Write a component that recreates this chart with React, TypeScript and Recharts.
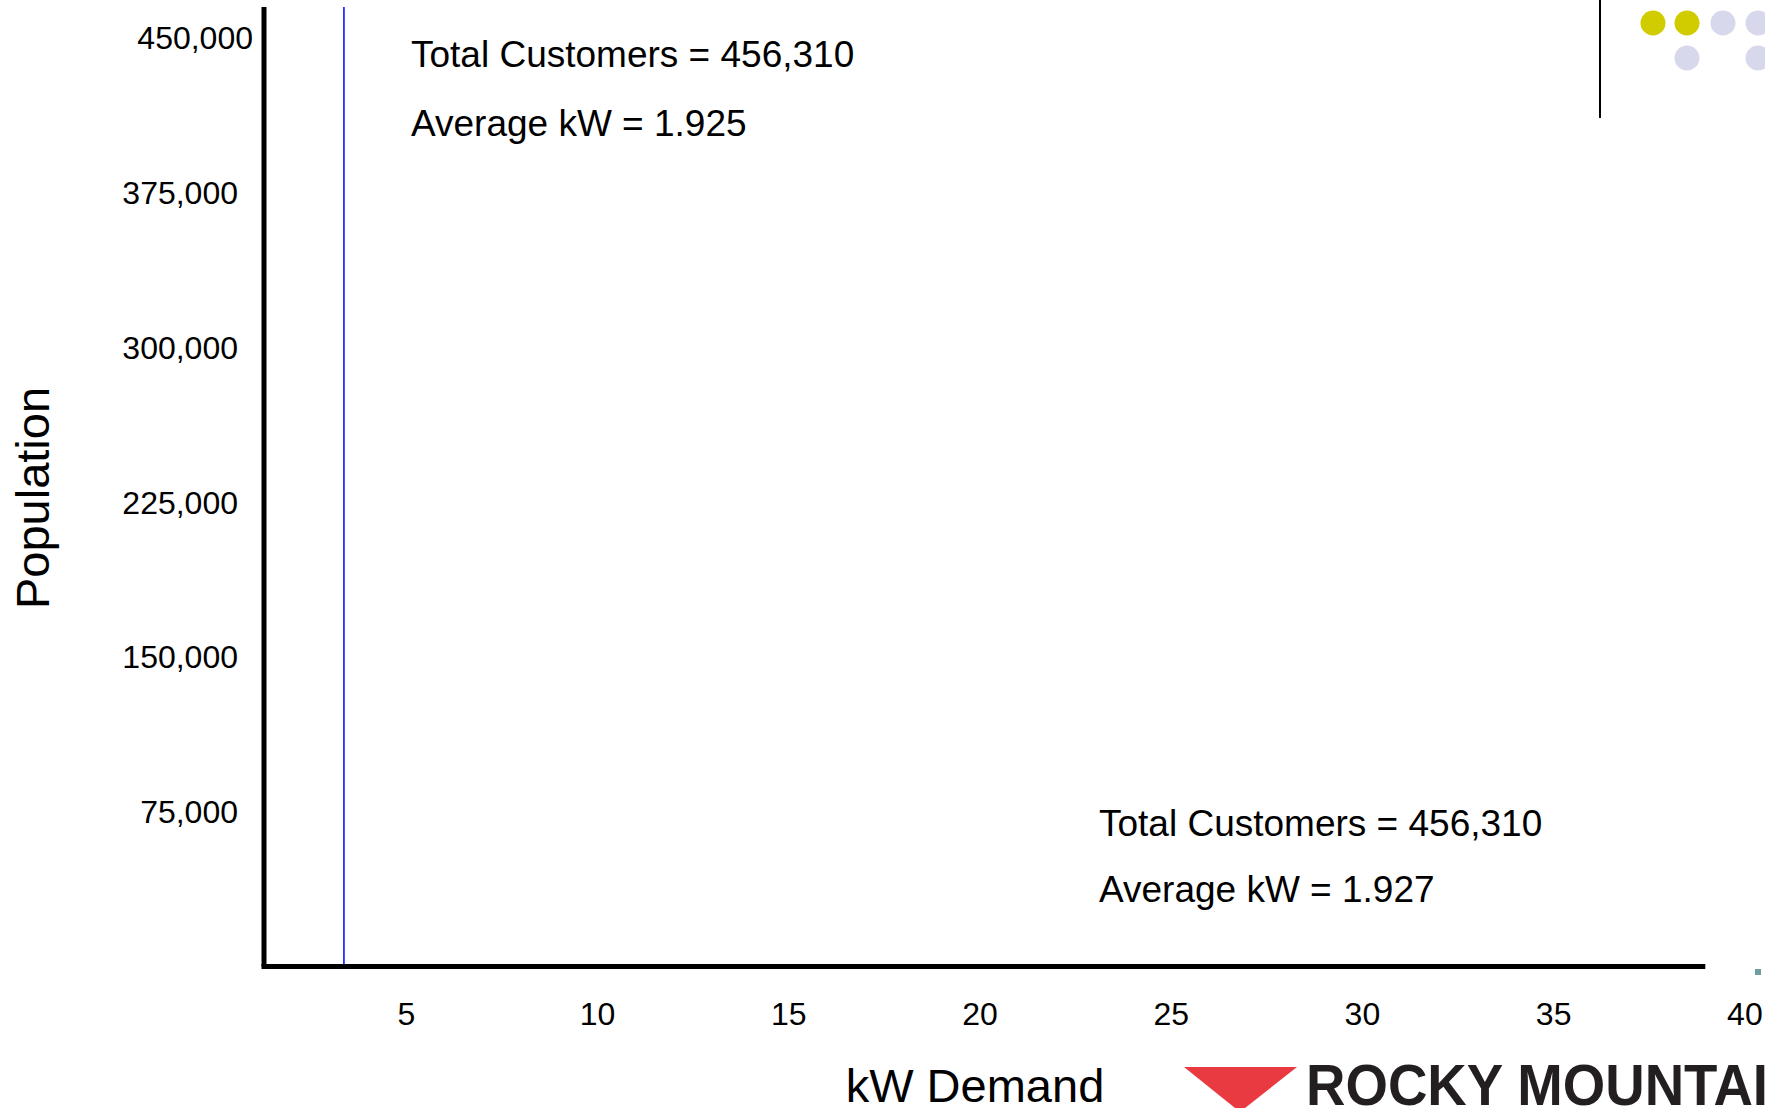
import React from 'react';
import { LineChart, Line, XAxis, YAxis, ReferenceLine } from 'recharts';

// axis ticks
const Y_TICKS = [75000, 150000, 225000, 300000, 375000, 450000];
const X_TICKS = [5, 10, 15, 20, 25, 30, 35, 40];
const X_DOMAIN = [1.28, 40.5];
const Y_DOMAIN = [0, 465000];
const X_AXIS_END = 38.9; // the drawn x axis stops short of the 40 label

// blue trace: a vertical run at ~3.4 kW
const TRACE_KW = [3.37, 3.37];
const TRACE_POP = [0, 465000];

const NOTES_TOP = ['Total Customers = 456,310', 'Average kW = 1.925'];
const NOTES_BOTTOM = ['Total Customers = 456,310', 'Average kW = 1.927'];

const data = TRACE_KW.map((kw, i) => ({ kw, pop: TRACE_POP[i] }));

const FONT = '"Liberation Sans", Arial, sans-serif';

const YTick = (props: any) => {
  const { x, y, payload } = props;
  // top label sits closer to the axis in the original
  const dx = payload.value === Y_TICKS[Y_TICKS.length - 1] ? 15 : 0;
  return (
    <text x={x + dx} y={y} dy="0.355em" textAnchor="end" fontSize={32} fill="#000" fontFamily={FONT}>
      {payload.value.toLocaleString('en-US')}
    </text>
  );
};

const Decor = () => (
  <svg
    width={1765}
    height={1108}
    style={{ position: 'absolute', left: 0, top: 0, pointerEvents: 'none' }}
    fontFamily={FONT}
  >
    {/* axis titles */}
    <text x={49} y={498} transform="rotate(-90 49 498)" textAnchor="middle" fontSize={47} fill="#000">
      Population
    </text>
    <text x={975} y={1102} textAnchor="middle" fontSize={47} fill="#000">
      kW Demand
    </text>

    {/* notes */}
    <text x={411} y={67} fontSize={37} fill="#000">{NOTES_TOP[0]}</text>
    <text x={411} y={136} fontSize={37} fill="#000">{NOTES_TOP[1]}</text>
    <text x={1099} y={836} fontSize={37} fill="#000">{NOTES_BOTTOM[0]}</text>
    <text x={1099} y={902} fontSize={37} fill="#000">{NOTES_BOTTOM[1]}</text>

    {/* slide decoration, top right */}
    <line x1={1600} y1={0} x2={1600} y2={118} stroke="#000" strokeWidth={2} />
    <circle cx={1653} cy={23} r={12.5} fill="#D0CC00" />
    <circle cx={1687} cy={23} r={12.5} fill="#D0CC00" />
    <circle cx={1723} cy={23} r={12.5} fill="#D8D8EC" />
    <circle cx={1758} cy={23} r={12.5} fill="#D8D8EC" />
    <circle cx={1687} cy={58} r={12.5} fill="#D8D8EC" />
    <circle cx={1758} cy={58} r={12.5} fill="#D8D8EC" />
    <rect x={1755} y={969} width={6} height={6} fill="#6E9E9E" />

    {/* logo */}
    <polygon points="1184,1067 1297,1067 1240,1112" fill="#E83A40" />
    <line x1={1297} y1={1080} x2={1262} y2={1108} stroke="#fff" strokeWidth={2.5} />
    <line x1={1297} y1={1089} x2={1273} y2={1108} stroke="#fff" strokeWidth={2.5} />
    <line x1={1297} y1={1098} x2={1284} y2={1108} stroke="#fff" strokeWidth={2.5} />
    <text
      x={1306}
      y={1105}
      fontSize={57}
      fontWeight="bold"
      fill="#231F20"
      textLength={462}
      lengthAdjust="spacingAndGlyphs"
    >
      ROCKY MOUNTAI
    </text>
  </svg>
);

export default function App() {
  return (
    <div
      style={{
        position: 'absolute',
        left: 0,
        top: 0,
        width: 1765,
        height: 1108,
        background: '#fff',
        fontFamily: FONT,
        overflow: 'hidden',
      }}
    >
      <LineChart width={1765} height={1108} data={data} margin={{ top: 7, right: 1, bottom: 81.5, left: 0 }}>
        <XAxis
          type="number"
          dataKey="kw"
          domain={X_DOMAIN}
          ticks={X_TICKS}
          interval={0}
          height={60}
          axisLine={false}
          tickLine={false}
          tickSize={0}
          tickMargin={36}
          tick={{ fill: '#000', fontSize: 32, fontFamily: FONT }}
          allowDataOverflow
        />
        <YAxis
          type="number"
          domain={Y_DOMAIN}
          ticks={Y_TICKS}
          interval={0}
          width={264}
          axisLine={{ stroke: '#000', strokeWidth: 5 }}
          tickLine={false}
          tickSize={0}
          tickMargin={26}
          tick={<YTick />}
          allowDataOverflow
        />
        <Line
          type="linear"
          dataKey="pop"
          stroke="#0000FF"
          strokeWidth={1.5}
          dot={false}
          activeDot={false}
          isAnimationActive={false}
        />
        <ReferenceLine
          segment={[
            { x: X_DOMAIN[0], y: 0 },
            { x: X_AXIS_END, y: 0 },
          ]}
          stroke="#000"
          strokeWidth={5}
          strokeLinecap="square"
          ifOverflow="visible"
        />
      </LineChart>
      <Decor />
    </div>
  );
}
